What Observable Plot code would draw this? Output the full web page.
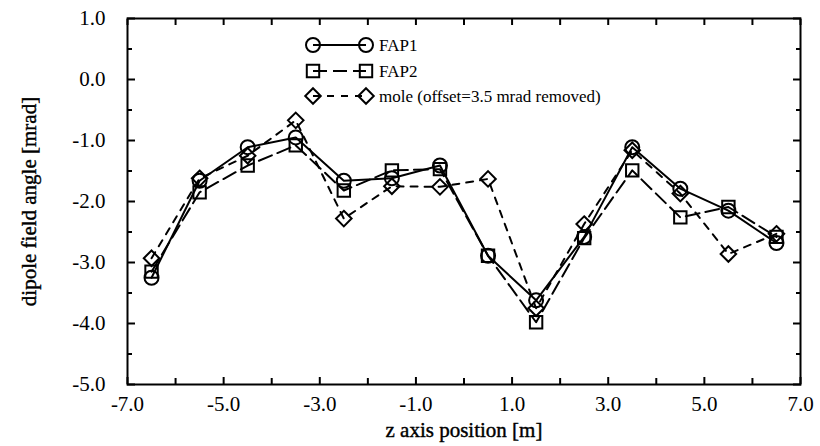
<!DOCTYPE html>
<html><head><meta charset="utf-8">
<script src="https://cdn.jsdelivr.net/npm/d3@7"></script>
<script src="https://cdn.jsdelivr.net/npm/@observablehq/plot@0.6"></script>
<style>
body{margin:0;background:#fff;}
#chart{position:relative;width:820px;height:446px;}
</style></head><body><div id="chart"></div>
<script>
// ---- data ----
const zPos = [-6.5,-5.5,-4.5,-3.5,-2.5,-1.5,-0.5,0.5,1.5,2.5,3.5,4.5,5.5,6.5];
const fap1 = [-3.25,-1.66,-1.11,-0.95,-1.66,-1.62,-1.41,-2.89,-3.62,-2.58,-1.11,-1.79,-2.15,-2.68];
const fap2 = [-3.15,-1.85,-1.41,-1.08,-1.82,-1.49,-1.47,-2.89,-3.98,-2.60,-1.49,-2.26,-2.09,-2.58];
const mole = [-2.93,-1.62,-1.25,-0.67,-2.28,-1.75,-1.76,-1.63,-3.75,-2.37,-1.16,-1.87,-2.86,-2.53];
const seriesNames = ["FAP1", "FAP2", "mole (offset=3.5 mrad removed)"];
const xMajor = [-7, -5, -3, -1, 1, 3, 5, 7];
const xMinor = [-6, -4, -2, 0, 2, 4, 6];
const yMajor = [1, 0, -1, -2, -3, -4, -5];
const yMinor = [0.5, -0.5, -1.5, -2.5, -3.5, -4.5];
const xTitle = "z axis position [m]";
const yTitle = "dipole field angle [mrad]";

const rows = (vals) => zPos.map((z, i) => ({z, v: vals[i]}));
const d1 = rows(fap1), d2 = rows(fap2), d3m = rows(mole);

const FONT = "'Liberation Serif', 'Times New Roman', serif";
const blank = () => "";
const fmt = d => d.toFixed(1);

const chart = Plot.plot({
  width: 820,
  height: 446,
  marginLeft: 127,
  marginRight: 20,
  marginTop: 18,
  marginBottom: 62,
  style: {fontFamily: FONT, fontSize: "21px", color: "black", background: "white"},
  x: {domain: [-7, 7]},
  y: {domain: [-5, 1]},
  marks: [
    Plot.frame({stroke: "black", strokeWidth: 2}),
    // bottom axis
    Plot.axisX(xMajor, {anchor: "bottom", tickSize: -7, tickPadding: 19, tickFormat: fmt, strokeWidth: 2, label: null}),
    Plot.axisX(xMinor, {anchor: "bottom", tickSize: -6, tickFormat: blank, strokeWidth: 2, label: null}),
    // top axis
    Plot.axisX(xMajor.concat(xMinor), {anchor: "top", tickSize: -6, tickFormat: blank, strokeWidth: 2, label: null}),
    // left axis
    Plot.axisY(yMajor, {anchor: "left", tickSize: -8, tickPadding: 30, tickFormat: fmt, strokeWidth: 2, label: null}),
    Plot.axisY(yMinor, {anchor: "left", tickSize: -5, tickFormat: blank, strokeWidth: 2, label: null}),
    // right axis
    Plot.axisY(yMajor, {anchor: "right", tickSize: -8, tickFormat: blank, strokeWidth: 2, label: null}),
    Plot.axisY(yMinor, {anchor: "right", tickSize: -5, tickFormat: blank, strokeWidth: 2, label: null}),
    // titles
    Plot.text([xTitle], {frameAnchor: "bottom", dy: 52, fontSize: 21, textAnchor: "middle", fill: "black", stroke: "black", strokeWidth: 0.4}),
    Plot.text([yTitle], {frameAnchor: "left", dx: -98, rotate: -90, fontSize: 21, textAnchor: "middle", fill: "black", stroke: "black", strokeWidth: 0.4}),
    // series
    Plot.line(d1, {x: "z", y: "v", stroke: "black", strokeWidth: 2}),
    Plot.line(d2, {x: "z", y: "v", stroke: "black", strokeWidth: 2, strokeDasharray: "14,6"}),
    Plot.line(d3m, {x: "z", y: "v", stroke: "black", strokeWidth: 2, strokeDasharray: "7,7"}),
    Plot.dot(d1, {x: "z", y: "v", symbol: "circle", r: 7, stroke: "black", strokeWidth: 2, fill: "none"}),
    Plot.dot(d2, {x: "z", y: "v", symbol: "square", r: 7, stroke: "black", strokeWidth: 2, fill: "none"}),
    Plot.dot(d3m, {x: "z", y: "v", symbol: "diamond2", r: 7, stroke: "black", strokeWidth: 2, fill: "none"})
  ]
});
document.getElementById("chart").appendChild(chart);

// ---- legend (inside plot area, top middle) ----
const svg = d3.select(chart);
const lg = svg.append("g").attr("class", "legend");
const legendY = [45, 71, 96];
const symbols = [d3.symbolCircle, d3.symbolSquare, d3.symbolDiamond2];
const dashes = [null, "14,6", "7,7"];
seriesNames.forEach((name, i) => {
  const y = legendY[i];
  lg.append("line").attr("x1", 313).attr("x2", 366).attr("y1", y).attr("y2", y)
    .attr("stroke", "black").attr("stroke-width", 2).attr("stroke-dasharray", dashes[i]);
  [313, 366].forEach(x => {
    lg.append("path").attr("d", d3.symbol(symbols[i], Math.PI * 49)())
      .attr("transform", `translate(${x},${y})`)
      .attr("fill", "none").attr("stroke", "black").attr("stroke-width", 2);
  });
  lg.append("text").attr("x", 379).attr("y", y).attr("dy", "0.35em")
    .attr("text-anchor", "start")
    .attr("font-family", FONT).attr("font-size", 17).attr("fill", "black").text(name);
});
</script>
</body></html>
